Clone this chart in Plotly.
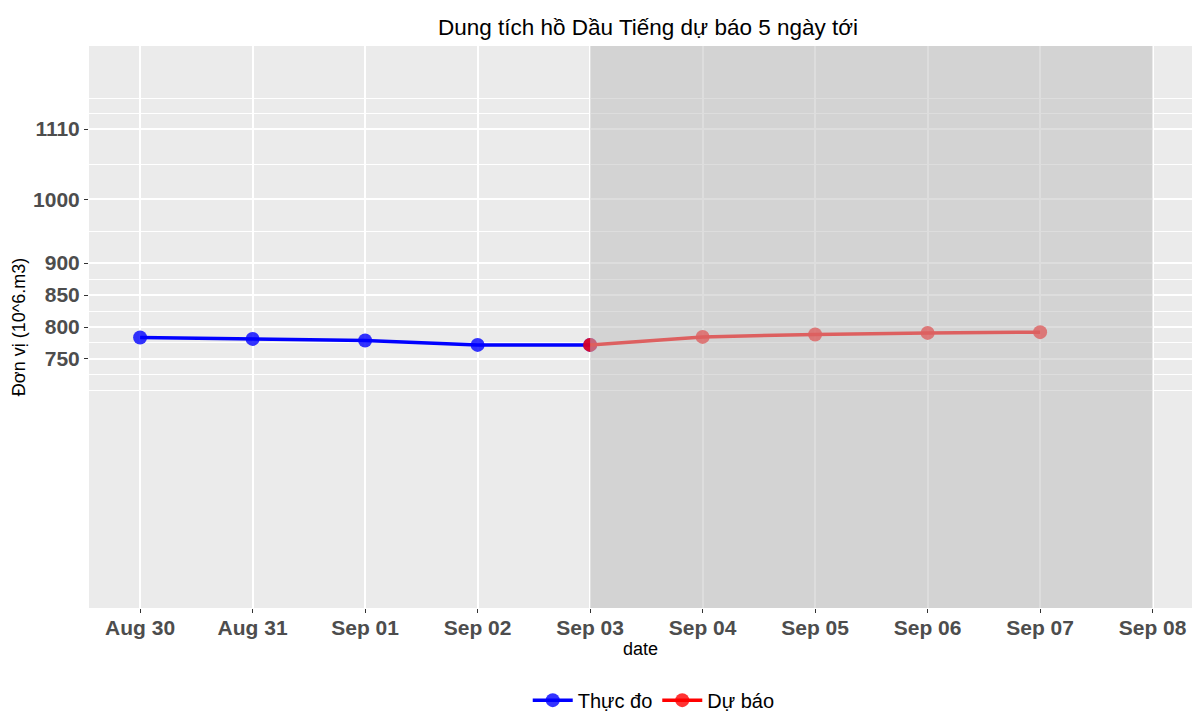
import pandas as pd
import plotly.graph_objects as go

# du lieu doc tu hinh
actual_dates = ['2023-08-30', '2023-08-31', '2023-09-01', '2023-09-02', '2023-09-03']
actual_vals = [783.6, 781.4, 778.9, 772.0, 772.0]
forecast_dates = ['2023-09-03', '2023-09-04', '2023-09-05', '2023-09-06', '2023-09-07']
forecast_vals = [772.0, 784.5, 788.3, 790.8, 791.9]
y_breaks = [750, 800, 850, 900, 1000, 1110]
y_minor = [700, 725, 775, 825, 875, 950, 1055, 1135, 1158]
x_ticks = pd.date_range('2023-08-30', '2023-09-08', freq='D')
shade_start, shade_end = '2023-09-03', '2023-09-08'

font = 'Liberation Sans, Arial, sans-serif'

fig = go.Figure()
fig.add_trace(go.Scatter(
    x=actual_dates, y=actual_vals, mode='lines+markers', name='Thực đo',
    line=dict(color='#0000FF', width=3.5),
    marker=dict(color='rgba(0,0,255,0.8)', size=14),
))
fig.add_trace(go.Scatter(
    x=forecast_dates, y=forecast_vals, mode='lines+markers', name='Dự báo',
    line=dict(color='#FF0000', width=3.5),
    marker=dict(color='rgba(255,0,0,0.8)', size=14),
))

# vung du bao
fig.add_shape(type='rect', xref='x', yref='y domain',
              x0=shade_start, x1=shade_end, y0=0, y1=1,
              fillcolor='rgba(188,188,188,0.51)', line_width=0, layer='above')

x_left = x_ticks[0] - pd.Timedelta(hours=10.9)
x_right = x_ticks[-1] + pd.Timedelta(hours=8.4)

fig.update_layout(
    width=1192, height=713,
    margin=dict(l=89, r=0, t=46, b=105, autoexpand=False),
    paper_bgcolor='white', plot_bgcolor='#EBEBEB',
    font=dict(family=font, color='black'),
    title=dict(text='Dung tích hồ Dầu Tiếng dự báo 5 ngày tới',
               x=0.5436, xanchor='center', y=0.962, yanchor='middle',
               font=dict(size=22.5, color='black'), automargin=False),
    showlegend=True,
    legend=dict(orientation='h', x=0.512, xanchor='center', y=-0.164, yanchor='middle',
                font=dict(size=20, color='black'), itemwidth=40,
                bgcolor='rgba(0,0,0,0)'),
    xaxis=dict(
        type='date', range=[x_left, x_right], automargin=False,
        tickvals=x_ticks, tickformat='%b %d',
        tickfont=dict(size=21, color='#4D4D4D', family=font, weight='bold'),
        ticks='outside', ticklen=4, tickcolor='#333333', tickwidth=1,
        ticklabelstandoff=-3,
        showgrid=True, gridcolor='white', gridwidth=2,
        zeroline=False, showline=False,
        title=dict(text='date', font=dict(size=18, color='black'), standoff=4),
    ),
    yaxis=dict(
        range=[360, 1240], automargin=False,
        tickvals=y_breaks,
        tickfont=dict(size=21, color='#4D4D4D', family=font, weight='bold'),
        ticks='outside', ticklen=4, tickcolor='#333333', tickwidth=1,
        showgrid=True, gridcolor='white', gridwidth=2,
        minor=dict(tickmode='array', tickvals=y_minor, showgrid=True,
                   gridcolor='white', gridwidth=1, ticks=''),
        zeroline=False, showline=False,
        title=dict(text='Đơn vị (10^6.m3)', font=dict(size=18, color='black'), standoff=2),
    ),
)

# bo le mac dinh cua trang de hinh nam dung 1192x713
fig.write_html("out.html", config={'displayModeBar': False},
               post_script="document.body.style.margin='0';document.body.style.overflow='hidden';")
